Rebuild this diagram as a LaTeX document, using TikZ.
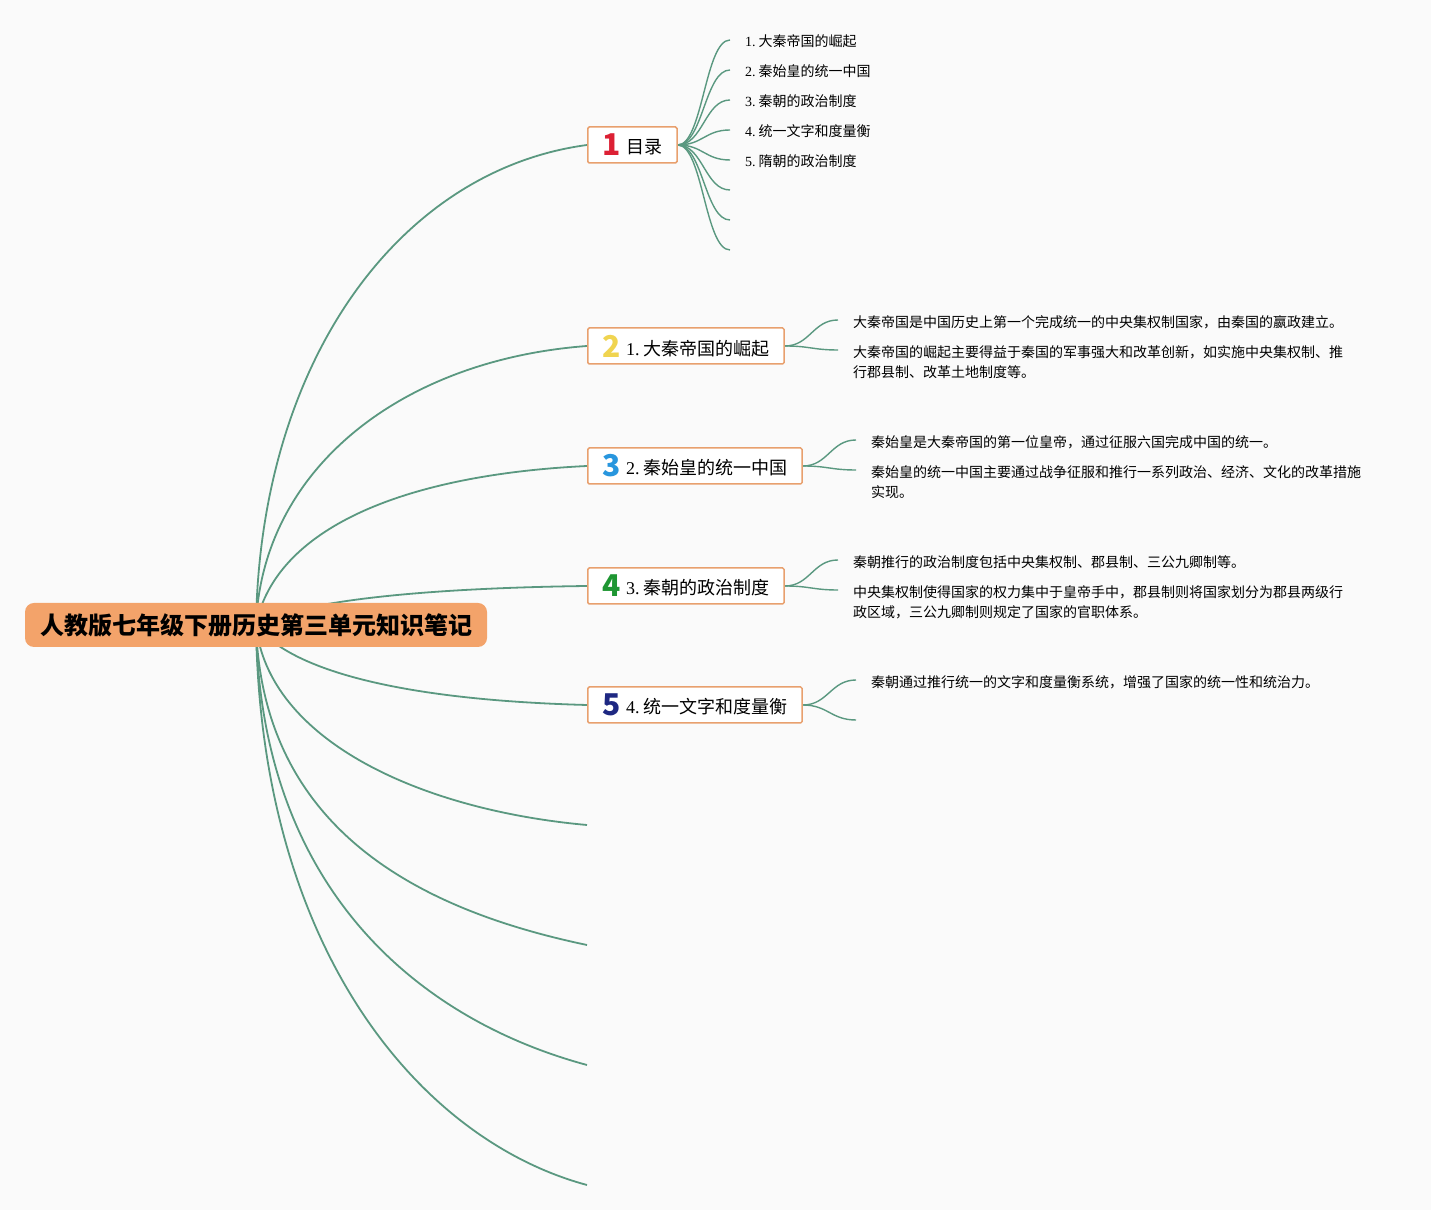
\documentclass[tikz,border=0pt]{standalone}
\usepackage{fontspec}
\setmainfont{Noto Sans CJK SC}
\newfontfamily\numfont{Liberation Serif}
\usetikzlibrary{backgrounds}
\definecolor{bgcol}{RGB}{250,250,250}
\definecolor{rootfill}{RGB}{243,163,106}
\definecolor{boxline}{RGB}{232,160,110}
\definecolor{linecol}{RGB}{90,152,128}
\definecolor{nred}{RGB}{220,32,52}
\definecolor{nyellow}{RGB}{240,212,80}
\definecolor{nblue}{RGB}{40,150,222}
\definecolor{ngreen}{RGB}{30,150,50}
\definecolor{nnavy}{RGB}{30,40,130}
\tikzstyle{root}=[fill=rootfill,rounded corners=9pt,minimum width=462pt,minimum height=44pt,font=\fontsize{24}{28}\selectfont\bfseries]
\tikzstyle{topic}=[draw=boxline,line width=1.5pt,fill=white,rounded corners=1.5pt,anchor=west,minimum height=36pt,inner xsep=15pt,font=\fontsize{18}{22}\selectfont]
\tikzstyle{leaf}=[anchor=base west,inner xsep=15pt,inner ysep=0pt,text width=520pt,align=left,font=\fontsize{14}{20}\selectfont]
\tikzstyle{branch}=[draw=linecol,line width=1.8pt]
\tikzstyle{twig}=[draw=linecol,line width=1.4pt]
\newcommand{\sn}[1]{{\numfont #1}\hspace{0.2em}}
\newcommand{\bignum}[2]{{\fontsize{30}{30}\selectfont\bfseries\color{#1}#2}\hspace{5pt}}
\newcommand{\toptext}[1]{\raisebox{2pt}{#1}}

\begin{document}
\begin{tikzpicture}[x=1pt,y=1pt]
    \useasboundingbox (0,0) rectangle (1431,1210);
    % root and topics
    \node[root] (root) at (256,585) {人教版七年级下册历史第三单元知识笔记};
    \node[topic] (t1) at (587,1065) {\bignum{nred}{1}\toptext{目录}};
    \node[topic] (t2) at (587,864) {\bignum{nyellow}{2}\toptext{\sn{1.}大秦帝国的崛起}};
    \node[topic] (t3) at (587,744) {\bignum{nblue}{3}\toptext{\sn{2.}秦始皇的统一中国}};
    \node[topic] (t4) at (587,624) {\bignum{ngreen}{4}\toptext{\sn{3.}秦朝的政治制度}};
    \node[topic] (t5) at (587,505) {\bignum{nnavy}{5}\toptext{\sn{4.}统一文字和度量衡}};
    \coordinate (t6) at (587,385);
    \coordinate (t7) at (587,265);
    \coordinate (t8) at (587,145);
    \coordinate (t9) at (587,25);
    % contents list
    \node[leaf] (l1a) at (730,1163) {\sn{1.}大秦帝国的崛起};
    \node[leaf] (l1b) at (730,1133) {\sn{2.}秦始皇的统一中国};
    \node[leaf] (l1c) at (730,1103) {\sn{3.}秦朝的政治制度};
    \node[leaf] (l1d) at (730,1073) {\sn{4.}统一文字和度量衡};
    \node[leaf] (l1e) at (730,1043) {\sn{5.}隋朝的政治制度};
    \coordinate (l1f) at (730,1020);
    \coordinate (l1g) at (730,990);
    \coordinate (l1h) at (730,960);
    % notes
    \node[leaf] (l2a) at (838,882) {大秦帝国是中国历史上第一个完成统一的中央集权制国家，由秦国的嬴政建立。};
    \node[leaf] (l2b) at (838,852) {大秦帝国的崛起主要得益于秦国的军事强大和改革创新，如实施中央集权制、推\\行郡县制、改革土地制度等。};
    \node[leaf] (l3a) at (856,762) {秦始皇是大秦帝国的第一位皇帝，通过征服六国完成中国的统一。};
    \node[leaf] (l3b) at (856,732) {秦始皇的统一中国主要通过战争征服和推行一系列政治、经济、文化的改革措施\\实现。};
    \node[leaf] (l4a) at (838,642) {秦朝推行的政治制度包括中央集权制、郡县制、三公九卿制等。};
    \node[leaf] (l4b) at (838,612) {中央集权制使得国家的权力集中于皇帝手中，郡县制则将国家划分为郡县两级行\\政区域，三公九卿制则规定了国家的官职体系。};
    \node[leaf] (l5a) at (856,522) {秦朝通过推行统一的文字和度量衡系统，增强了国家的统一性和统治力。};
    \coordinate (l5b) at (856,490);

    \begin{scope}[on background layer]
        \fill[bgcol] (0,0) rectangle (1431,1210);
        \draw[branch] (root.center) .. controls (260,850) and (400,1040) .. (t1.west);
        \draw[branch] (root.center) .. controls (262,740) and (400,850) .. (t2.west);
        \draw[branch] (root.center) .. controls (275,680) and (400,735) .. (t3.west);
        \draw[branch] (root.center) .. controls (300,610) and (430,622) .. (t4.west);
        \draw[branch] (root.center) .. controls (290,540) and (400,510) .. (t5.west);
        \draw[branch] (root.center) .. controls (268,470) and (420,400) .. (t6);
        \draw[branch] (root.center) .. controls (262,380) and (420,300) .. (t7);
        \draw[branch] (root.center) .. controls (260,320) and (420,190) .. (t8);
        \draw[branch] (root.center) .. controls (260,260) and (420,70) .. (t9);
        \foreach \k in {l1a,l1b,l1c,l1d,l1e}
            \draw[twig] (t1.east) .. controls +(25,0) and +(-25,0) .. ([yshift=7pt]\k.base west);
        \foreach \k in {l1f,l1g,l1h}
            \draw[twig] (t1.east) .. controls +(25,0) and +(-25,0) .. (\k);
        \foreach \p/\k in {t2/l2a,t2/l2b,t3/l3a,t3/l3b,t4/l4a,t4/l4b,t5/l5a}
            \draw[twig] (\p.east) .. controls +(25,0) and +(-25,0) .. ([yshift=8pt]\k.base west);
        \draw[twig] (t5.east) .. controls +(25,0) and +(-25,0) .. (l5b);
    \end{scope}
\end{tikzpicture}
\end{document}
